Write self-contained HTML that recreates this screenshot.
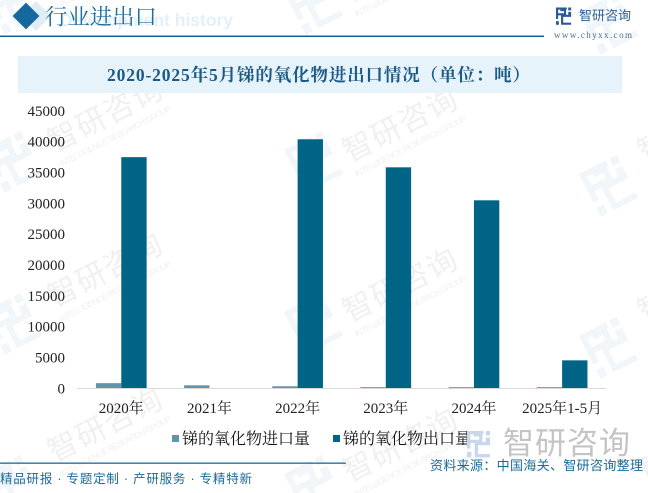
<!DOCTYPE html>
<html lang="zh">
<head>
<meta charset="utf-8">
<title>2020-2025年5月锑的氧化物进出口情况</title>
<style>
html,body{margin:0;padding:0;background:#fff;}
#stage{display:block;width:648px;height:493px;overflow:hidden;}
text{font-family:"Liberation Serif","Noto Serif CJK SC",serif;}
.sans{font-family:"Liberation Sans","Noto Sans CJK SC",sans-serif;}
</style>
</head>
<body>
<svg id="stage" xmlns="http://www.w3.org/2000/svg" width="648" height="493" viewBox="0 0 648 493">
  <defs>
    <g id="logo-mark">
      <path d="M0 0H15V3H3V8H11V5H6V3H14V11H3V16H0Z"/>
      <rect x="17" y="0" width="4" height="4"/>
      <path d="M17 6H21V13H10V21H21V24H7V10H17Z"/>
      <rect x="0" y="19" width="4" height="5"/>
    </g>
  </defs>
  <g id="watermarks"></g>

  <g>
    <rect x="25.500" y="5.500" width="21" height="21" fill="#e0edf5" transform="rotate(45 36 16)"/>
    <rect x="16.500" y="6.500" width="19" height="19" fill="#15699f" transform="rotate(45 26 16)"/>
    <text x="60" y="26" font-size="17.500" font-weight="700" fill="#e3f0f9" class="sans">Development history</text>
    <text x="45" y="24.500" font-size="22.400" fill="#1f6d9b">行业进出口</text>
    <rect x="0" y="35.500" width="544" height="1.500" fill="#0f6496"/>
    <use href="#logo-mark" transform="translate(556,7.500) scale(.72)" fill="#2a5a9a"/>
    <text x="579" y="20" font-size="13" fill="#2c6096" textLength="52" class="sans">智研咨询</text>
    <text x="554" y="38" font-size="9" fill="#4a6f92" textLength="78">www.chyxx.com</text>
  </g>

  <rect x="18" y="56" width="604" height="37" fill="#e6f3fb"/>
  <text x="107" y="81" font-size="17.500" font-weight="700" fill="#1a5a85" textLength="423">2020-2025年5月锑的氧化物进出口情况（单位：吨）</text>

  <g id="y-axis"></g>
  <g id="bars"></g>
  <line id="x-axis-line" x1="77" x2="606" y1="388.500" y2="388.500" stroke="#d9d9d9" stroke-width="1"/>
  <g id="x-axis"></g>

  <g>
    <rect x="172" y="435" width="7" height="7" fill="#5f94ad"/>
    <text x="182" y="444" font-size="16" fill="#111">锑的氧化物进口量</text>
    <rect x="333" y="435" width="7" height="7" fill="#006487"/>
    <text x="343" y="444" font-size="16" fill="#111">锑的氧化物出口量</text>
  </g>

  <g>
    <use href="#logo-mark" transform="translate(467,431) scale(1.100)" fill="#c9d7ea"/>
    <text x="503" y="454" font-size="31" fill="#c4c4c4" textLength="127" class="sans">智研咨询</text>
    <rect x="0" y="462.500" width="346" height="1.300" fill="#1a6a96"/>
    <text x="430" y="470" font-size="13" fill="#1a6a96" textLength="213" class="sans">资料来源：中国海关、智研咨询整理</text>
    <text x="0" y="483" font-size="12.500" fill="#1a6a96" textLength="252" class="sans">精品研报 · 专题定制 · 产研服务 · 专精特新</text>
  </g>

<script>
const categories = ['2020年', '2021年', '2022年', '2023年', '2024年', '2025年1-5月'];
const importValues = [850, 500, 350, 200, 200, 200];
const exportValues = [37500, 0, 40400, 35850, 30500, 4550];
const yTicks = [0, 5000, 10000, 15000, 20000, 25000, 30000, 35000, 40000, 45000];
const yMax = 45000;

const svgNs = 'http://www.w3.org/2000/svg';
const plotLeft = 77.2, plotRight = 606.2, plotBottom = 388.4, plotTop = 110.9;
const bandWidth = (plotRight - plotLeft) / categories.length;
const barWidth = bandWidth * 0.2875;

function yScale(v) {
  return plotBottom - (v / yMax) * (plotBottom - plotTop);
}
function xCenter(i) {
  return plotLeft + bandWidth * (i + 0.5);
}
function make(tag, attrs, parent) {
  const el = document.createElementNS(svgNs, tag);
  for (const k in attrs) el.setAttribute(k, attrs[k]);
  parent.appendChild(el);
  return el;
}

const yGroup = document.getElementById('y-axis');
yTicks.forEach(function (t) {
  const el = make('text', {x: 65, y: yScale(t) + 5, 'font-size': 15, fill: '#222', 'text-anchor': 'end'}, yGroup);
  
  
  el.textContent = t;
});

const xGroup = document.getElementById('x-axis');
categories.forEach(function (c, i) {
  const el = make('text', {x: xCenter(i), y: 413, 'font-size': 15, fill: '#222', 'text-anchor': 'middle'}, xGroup);
  
  
  el.textContent = c;
});

const barGroup = document.getElementById('bars');
categories.forEach(function (c, i) {
  const impTop = yScale(importValues[i]);
  const imp = make('rect', {x: xCenter(i) - barWidth, y: impTop, width: barWidth, height: plotBottom - impTop, fill: '#5f94ad'}, barGroup);
  
  
  const expTop = yScale(exportValues[i]);
  const exp = make('rect', {x: xCenter(i), y: expTop, width: barWidth, height: plotBottom - expTop, fill: '#006487'}, barGroup);
  
  
});

const wm = document.getElementById('watermarks');
[[105, -40], [105, 120], [105, 275], [105, 430], [400, -30], [400, 130], [400, 290], [400, 450], [695, 130], [695, 290], [695, 450]].forEach(function (p) {
  const g = make('g', {transform: 'translate(' + p[0] + ',' + p[1] + ') rotate(-27)', opacity: 0.42}, wm);
  
  
  const a = make('text', {x: -60, y: 6, 'font-size': 30, fill: '#dcdcdc', class: 'sans', textLength: 124}, g);
  a.textContent = '智研咨询';
  const b = make('text', {x: -60, y: 22, 'font-size': 8.5, fill: '#dcdcdc', class: 'sans', textLength: 124}, g);
  b.textContent = 'INTELLIGENCE RESEARCH GROUP';
});
[[-17, 150], [-17, 312], [-17, 474], [284, 150], [284, 312], [284, 474], [579, 174], [579, 336], [579, 12], [284, -8], [-17, -8]].forEach(function (p) {
  const u = make('use', {href: '#logo-mark', transform: 'translate(' + p[0] + ',' + p[1] + ') rotate(-27) scale(2)', fill: '#e6eff7', opacity: 0.55}, wm);
  
  
});
</script>
</svg>
</body>
</html>
